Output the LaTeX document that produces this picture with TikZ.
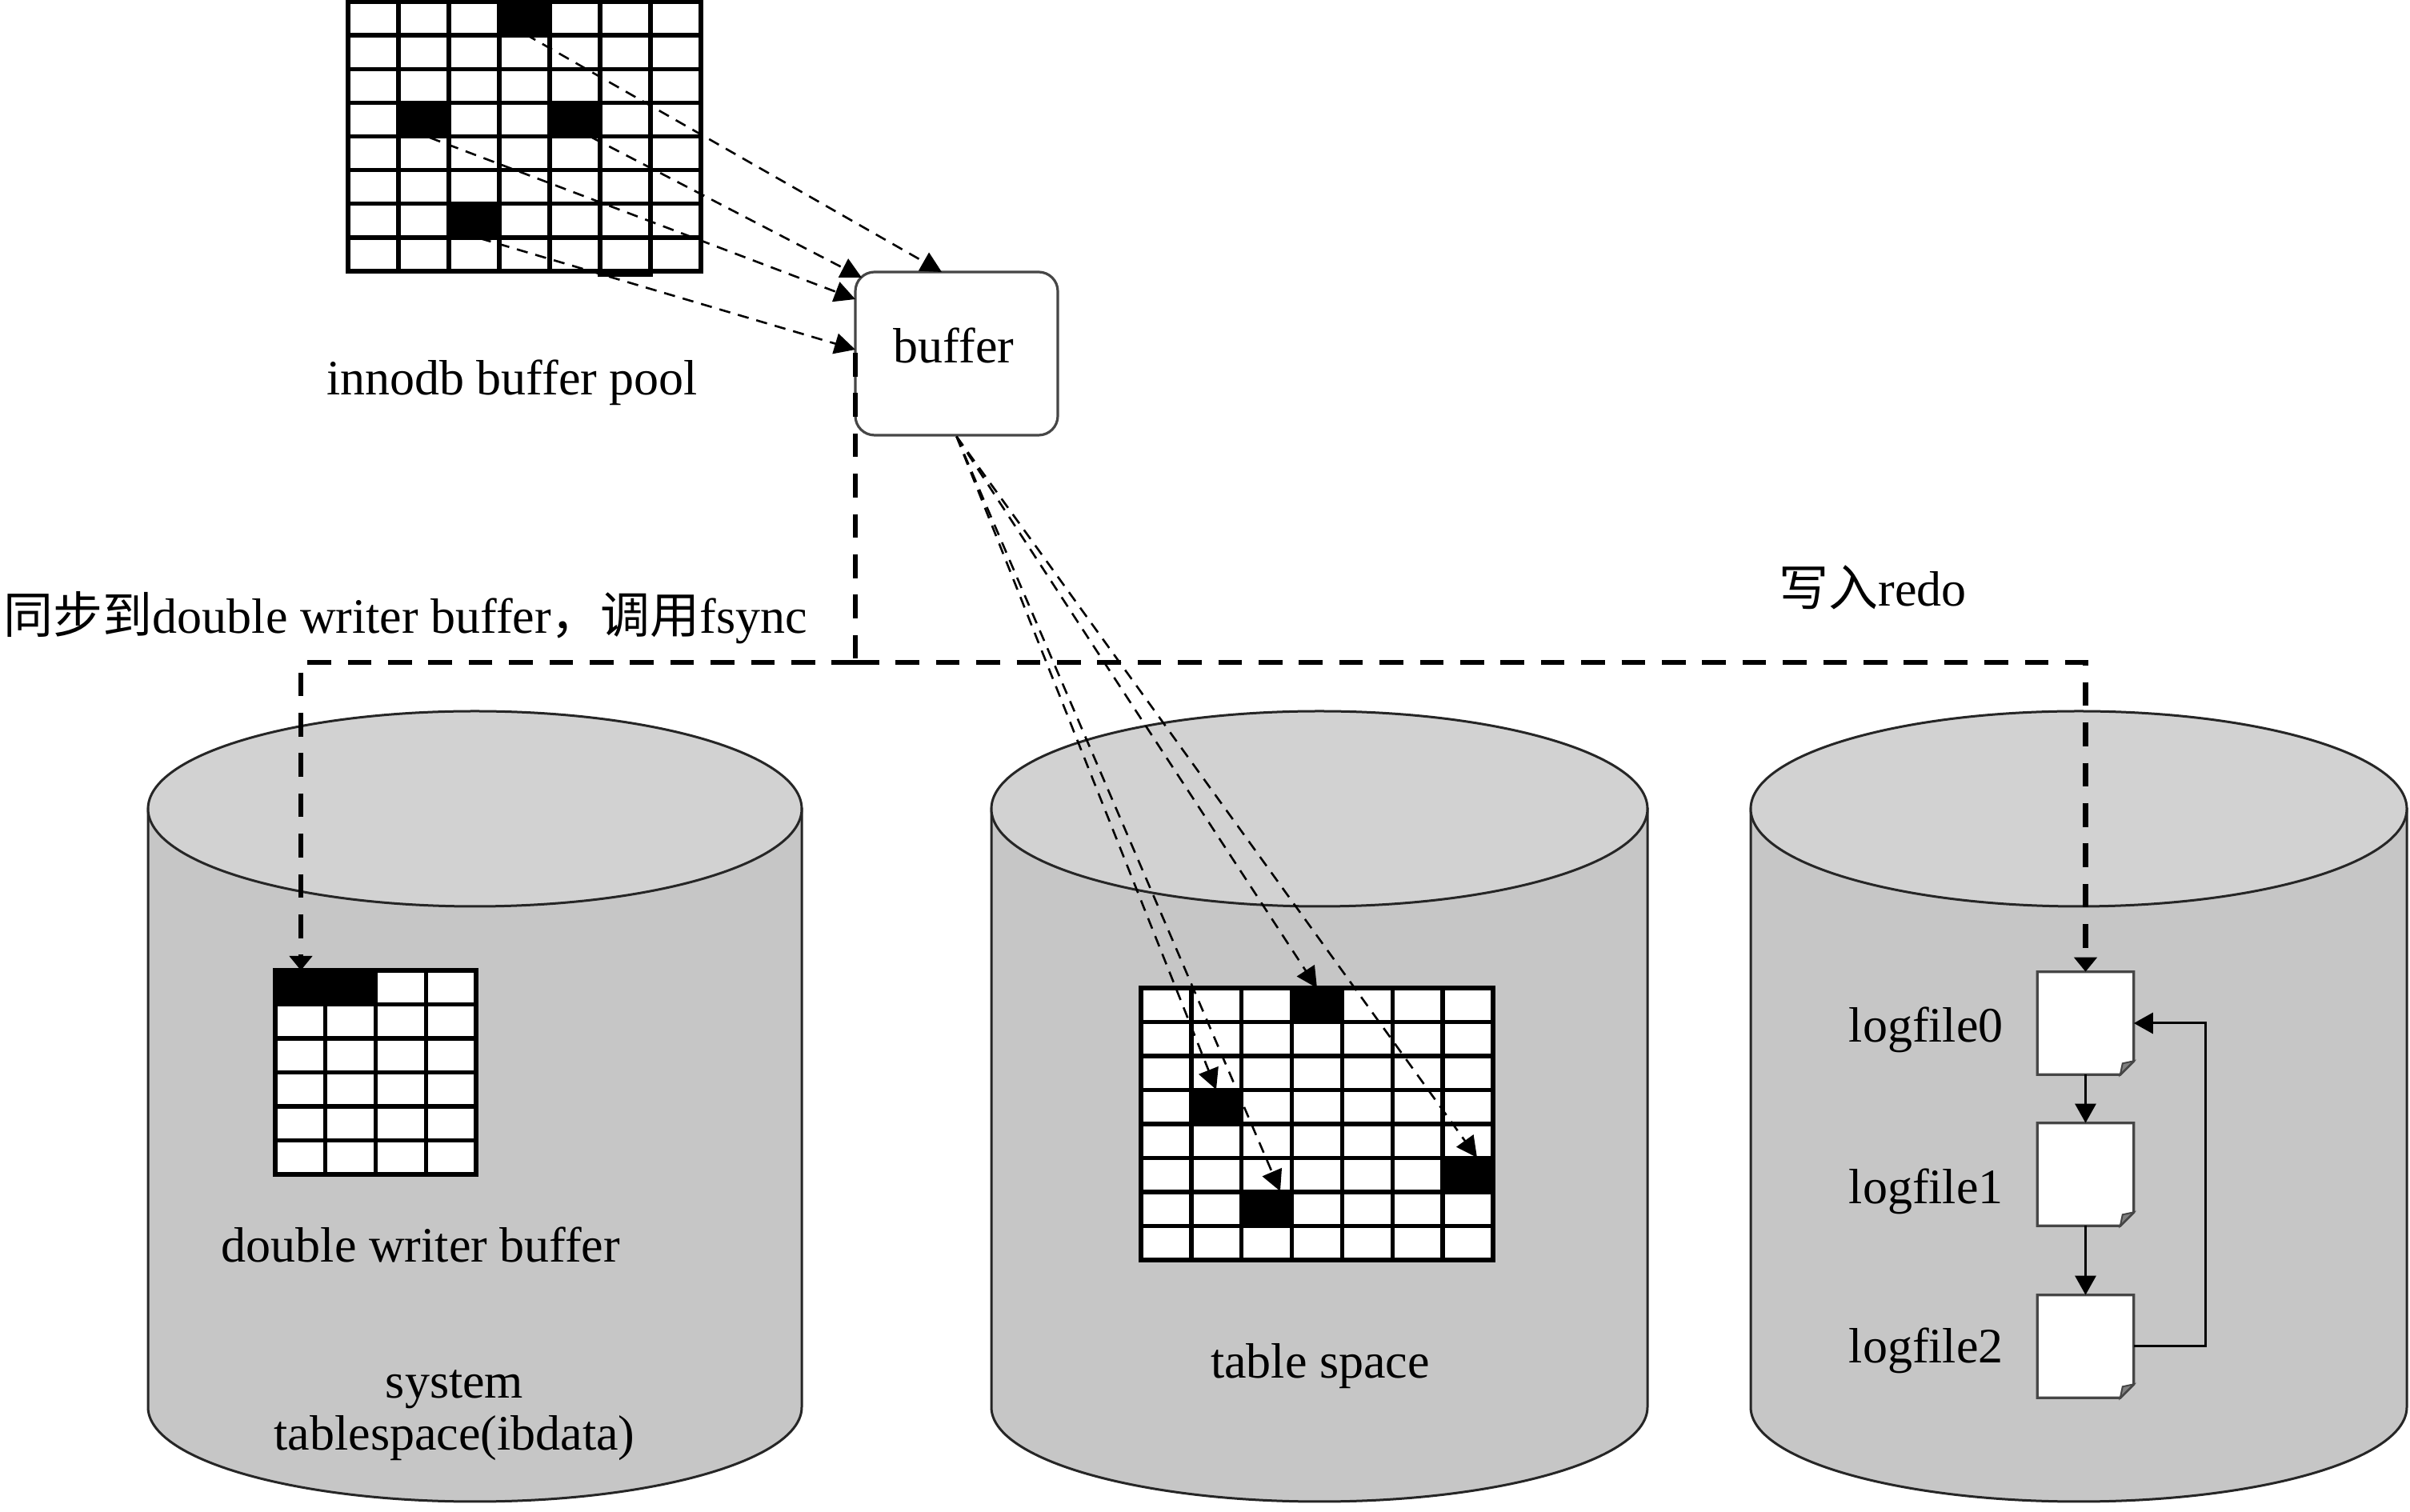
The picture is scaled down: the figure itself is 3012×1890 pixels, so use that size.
\documentclass[tikz,border=0pt]{standalone}
\usepackage{fontspec}
\setmainfont{Liberation Serif}
\newfontfamily\cjk{Noto Sans CJK SC}
\usetikzlibrary{arrows.meta,calc}
\definecolor{cylbody}{RGB}{198,198,198}
\definecolor{cyltop}{RGB}{210,210,210}
\definecolor{edgegray}{RGB}{70,70,70}
\begin{document}
\begin{tikzpicture}[x=0.25pt,y=-0.25pt,
  font=\fontsize{15.5}{16.5}\selectfont,
  cylline/.style={draw=black!85,line width=0.75pt},
  gridline/.style={line width=1.35pt,black},
  thinarrow/.style={line width=0.65pt,dash pattern=on 3.5pt off 2.5pt,-{Triangle[length=6.5pt,width=6.5pt]}},
  thickdash/.style={line width=1.6pt,dash pattern=on 7.4pt off 5.2pt},
  thickarrow/.style={thickdash,-{Triangle[length=4.5pt,width=7pt]}},
  logarrow/.style={line width=0.75pt,-{Triangle[length=6pt,width=6.5pt]}},
  bufbox/.style={draw=edgegray,line width=0.8pt,fill=white,rounded corners=6pt,minimum width=63.25pt,minimum height=51pt,inner sep=0pt},
  logbox/.style={draw=edgegray,line width=0.8pt,fill=white,line join=miter},
  lognode/.style={minimum width=29.75pt,minimum height=31.75pt,inner sep=0pt},
  lbl/.style={anchor=base,inner sep=0pt}]
\useasboundingbox (0,0) rectangle (3012,1890);
\fill[white] (0,0) rectangle (3012,1890);

% ---------- cylinders ----------
\foreach \cx/\rx in {593.5/408.5,1649/410,2598/410}{
  \filldraw[cylline,fill=cylbody] ({\cx-\rx},1011) -- ({\cx-\rx},1759)
     arc[start angle=180,end angle=0,x radius=\rx,y radius=118] -- ({\cx+\rx},1011) -- cycle;
  \filldraw[cylline,fill=cyltop] (\cx,1011) ellipse[x radius=\rx,y radius=122];
}

% ---------- innodb buffer pool grid ----------
\fill[white] (435,2) rectangle (876,339);
\foreach \c/\r in {3/0,1/3,4/3,2/6}
  \fill ({435+63*\c},{2+42.125*\r}) rectangle ++(63,42.125);
\foreach \i in {1,...,6} \draw[gridline] ({435+63*\i},2) -- ({435+63*\i},339);
\foreach \j in {1,...,7} \draw[gridline] (435,{2+42.125*\j}) -- (876,{2+42.125*\j});
\draw[gridline] (435,2) rectangle (876,339);
\draw[gridline] (750,339) -- (750,343) -- (813,343) -- (813,339);

% ---------- table space grid ----------
\fill[white] (1426,1235) rectangle (1866,1575);
\foreach \c/\r in {3/0,1/3,6/5,2/6}
  \fill ({1426+62.857*\c},{1235+42.5*\r}) rectangle ++(62.857,42.5);
\foreach \i in {1,...,6} \draw[gridline] ({1426+62.857*\i},1235) -- ({1426+62.857*\i},1575);
\foreach \j in {1,...,7} \draw[gridline] (1426,{1235+42.5*\j}) -- (1866,{1235+42.5*\j});
\draw[gridline] (1426,1235) rectangle (1866,1575);

% ---------- double writer buffer grid ----------
\fill[white] (344,1213) rectangle (595,1468);
\fill (344,1213) rectangle (469.5,1255.5);
\draw[gridline] (406.75,1255.5) -- (406.75,1468);
\foreach \i in {2,3} \draw[gridline] ({344+62.75*\i},1213) -- ({344+62.75*\i},1468);
\foreach \j in {1,...,5} \draw[gridline] (344,{1213+42.5*\j}) -- (595,{1213+42.5*\j});
\draw[gridline] (344,1213) rectangle (595,1468);

% ---------- texts ----------
\node[lbl] (tpool) at (640,494) {innodb buffer pool};
\node[lbl,anchor=base west] (tsync) at (4,792) {{\cjk 同步到}double writer buffer{\cjk ，调用}fsync};
\node[lbl,anchor=base west] (tredo) at (2223,758) {{\cjk 写入}redo};
\node[lbl] (tdw) at (526,1578) {double writer buffer};
\node[lbl] (tsys1) at (568,1748) {system};
\node[lbl] (tsys2) at (568,1813) {tablespace(ibdata)};
\node[lbl] (tts) at (1650,1723) {table space};
\node[lbl,anchor=base west] (tl0) at (2310,1303) {logfile0};
\node[lbl,anchor=base west] (tl1) at (2310,1505) {logfile1};
\node[lbl,anchor=base west] (tl2) at (2310,1704) {logfile2};

% ---------- buffer ----------
\node[bufbox] (buf) at (1195.5,442) {};
\node[lbl] (tbuf) at (1192,454) {buffer};

% ---------- log files ----------
\node[lognode] (log0) at (2606.5,1279) {};
\node[lognode] (log1) at (2606.5,1468) {};
\node[lognode] (log2) at (2606.5,1683) {};
\foreach \n in {log0,log1,log2}{
  \draw[logbox] (\n.north west) -- (\n.north east) -- ($(\n.south east)+(0,-17)$)
     -- ($(\n.south east)+(-17,0)$) -- (\n.south west) -- cycle;
  \filldraw[draw=edgegray,fill=gray,line width=0.5pt] ($(\n.south east)+(0,-17)$)
     -- ($(\n.south east)+(-17,0)$) -- ($(\n.south east)+(-14,-14)$) -- cycle;
}
\draw[logarrow] (log0.south) -- (log1.north);
\draw[logarrow] (log1.south) -- (log2.north);
\draw[logarrow] (log2.east) -- ++(90,0) |- (log0.east);

% ---------- thin dashed arrows: buffer pool -> buffer ----------
\coordinate (pA) at (657,43);
\coordinate (pB) at (740,172);
\coordinate (pC) at (537,172);
\coordinate (pD) at (600,298);
\coordinate (eA) at (1177,340);
\coordinate (eB) at (1077,347);
\coordinate (eC) at (1069,374);
\coordinate (eD) at (1069,437);
\draw[thinarrow] (pA) -- (eA);
\draw[thinarrow] (pB) -- (eB);
\draw[thinarrow] (pC) -- (eC);
\draw[thinarrow] (pD) -- (eD);

% ---------- thin dashed arrows: buffer -> table space ----------
\coordinate (tA) at (1646,1235);
\coordinate (tB) at (1846,1447);
\coordinate (tC) at (1520,1362);
\coordinate (tD) at (1600,1489);
\draw[thinarrow] (buf.south) -- (tA);
\draw[thinarrow] (buf.south) -- (tB);
\draw[thinarrow] (buf.south) -- (tC);
\draw[thinarrow] (buf.south) -- (tD);

% ---------- thick dashed: fsync / redo ----------
\coordinate (bl) at (1069,441);
\coordinate (jn) at (1069,828);
\coordinate (dwin) at (376,1213);
\draw[thickdash] (bl) -- (jn);
\draw[thickarrow] (jn) -| (dwin);
\draw[thickarrow] (jn) -| (log0.north);
\end{tikzpicture}
\end{document}
